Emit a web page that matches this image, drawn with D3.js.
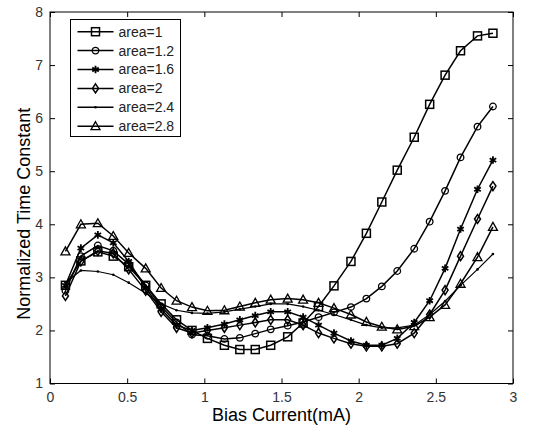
<!DOCTYPE html>
<html>
<head>
<meta charset="utf-8">
<script src="https://cdn.jsdelivr.net/npm/d3@7"></script>
<style>
  body { margin: 0; background: #fff; }
  svg { font-family: "Liberation Sans", Arial, sans-serif; }
</style>
</head>
<body>
<div id="chart"></div>
<script>
// bias current (mA) at each measured point
const biasCurrent = [0.10, 0.20, 0.31, 0.41, 0.51, 0.62, 0.72, 0.82, 0.92, 1.02,
    1.13, 1.23, 1.33, 1.43, 1.54, 1.64, 1.74, 1.84, 1.95, 2.05,
    2.15, 2.25, 2.36, 2.46, 2.56, 2.66, 2.77, 2.87];

const area1 = [2.85, 3.31, 3.48, 3.40, 3.20, 2.85, 2.50, 2.20, 2.00, 1.85,
    1.72, 1.64, 1.64, 1.72, 1.88, 2.14, 2.45, 2.84, 3.30, 3.83,
    4.42, 5.02, 5.64, 6.26, 6.81, 7.27, 7.55, 7.60];
const area12 = [2.75, 3.40, 3.60, 3.50, 3.25, 2.85, 2.45, 2.15, 1.92, 1.90,
    1.84, 1.86, 1.94, 2.02, 2.09, 2.16, 2.25, 2.34, 2.44, 2.60,
    2.83, 3.12, 3.54, 4.05, 4.63, 5.26, 5.84, 6.22];
const area16 = [2.85, 3.55, 3.80, 3.65, 3.30, 2.80, 2.40, 2.10, 2.00, 2.05,
    2.12, 2.20, 2.28, 2.35, 2.35, 2.25, 2.10, 1.95, 1.80, 1.72,
    1.72, 1.85, 2.15, 2.56, 3.17, 3.91, 4.66, 5.21];
const area2 = [2.65, 3.30, 3.50, 3.45, 3.15, 2.75, 2.35, 2.05, 1.95, 2.00,
    2.05, 2.10, 2.15, 2.20, 2.20, 2.10, 1.95, 1.85, 1.75, 1.70,
    1.70, 1.75, 1.95, 2.30, 2.76, 3.40, 4.10, 4.72];
const area24 = [2.90, 3.13, 3.11, 3.05, 2.90, 2.70, 2.50, 2.38, 2.33, 2.32,
    2.35, 2.40, 2.45, 2.50, 2.50, 2.45, 2.38, 2.30, 2.20, 2.10,
    2.05, 2.05, 2.10, 2.30, 2.55, 2.85, 3.15, 3.44];
const area28 = [3.49, 4.00, 4.02, 3.78, 3.46, 3.17, 2.80, 2.56, 2.44, 2.37,
    2.38, 2.45, 2.52, 2.58, 2.60, 2.58, 2.52, 2.42, 2.30, 2.16,
    2.07, 2.02, 2.08, 2.25, 2.48, 2.88, 3.38, 3.95];

const seriesNames = ["area=1", "area=1.2", "area=1.6", "area=2", "area=2.4", "area=2.8"];
const seriesValues = [area1, area12, area16, area2, area24, area28];
const seriesMarkers = ["square", "circle", "asterisk", "diamond", "dot", "triangle"];

const xTicks = [0, 0.5, 1, 1.5, 2, 2.5, 3];
const yTicks = [1, 2, 3, 4, 5, 6, 7, 8];

const width = 536, height = 425;
const margin = { top: 12, right: 23, bottom: 41.5, left: 50 };
const innerW = width - margin.left - margin.right;
const innerH = height - margin.top - margin.bottom;

const svg = d3.select("#chart").append("svg")
    .attr("width", width)
    .attr("height", height);

const g = svg.append("g")
    .attr("transform", `translate(${margin.left},${margin.top})`);

const x = d3.scaleLinear().domain([0, 3]).range([0, innerW]);
const y = d3.scaleLinear().domain([1, 8]).range([innerH, 0]);

// axes: MATLAB-style box with inward ticks on all sides
const tickLen = 5;
g.append("g")
    .attr("transform", `translate(0,${innerH})`)
    .call(d3.axisBottom(x).tickValues(xTicks).tickSize(-tickLen).tickPadding(tickLen + 4)
        .tickFormat(d3.format("")))
    .call(a => a.select(".domain").remove());
g.append("g")
    .call(d3.axisTop(x).tickValues(xTicks).tickSize(-tickLen).tickFormat(""))
    .call(a => a.select(".domain").remove());
g.append("g")
    .call(d3.axisLeft(y).tickValues(yTicks).tickSize(-tickLen).tickPadding(tickLen + 2)
        .tickFormat(d3.format("d")))
    .call(a => a.select(".domain").remove());
g.append("g")
    .attr("transform", `translate(${innerW},0)`)
    .call(d3.axisRight(y).tickValues(yTicks).tickSize(-tickLen).tickFormat(""))
    .call(a => a.select(".domain").remove());

g.selectAll(".tick text")
    .attr("font-size", "14px")
    .attr("fill", "#333")
    .attr("font-family", "'Liberation Sans', Arial, sans-serif");
g.selectAll(".tick line").attr("stroke", "#000");

g.append("rect")
    .attr("width", innerW)
    .attr("height", innerH)
    .attr("fill", "none")
    .attr("stroke", "#000")
    .attr("stroke-width", 1);

// axis labels
svg.append("text")
    .attr("x", margin.left + innerW / 2)
    .attr("y", 421)
    .attr("text-anchor", "middle")
    .attr("font-size", "18px")
    .text("Bias Current(mA)");

svg.append("text")
    .attr("transform", `translate(30,${margin.top + innerH / 2 + 16}) rotate(-90)`)
    .attr("text-anchor", "middle")
    .attr("font-size", "18px")
    .text("Normalized Time Constant");

// marker drawing
function drawMarker(sel, type) {
    if (type === "dot") {
        sel.append("circle").attr("r", 1.3).attr("fill", "#000");
    } else if (type === "asterisk") {
        sel.append("path")
            .attr("d", d3.symbol(d3.symbolAsterisk, 40)())
            .attr("fill", "none").attr("stroke", "#000").attr("stroke-width", 1.8);
    } else if (type === "square") {
        sel.append("rect").attr("x", -4).attr("y", -4).attr("width", 8).attr("height", 8)
            .attr("fill", "none").attr("stroke", "#000").attr("stroke-width", 1.5);
    } else if (type === "circle") {
        sel.append("circle").attr("r", 3.3)
            .attr("fill", "none").attr("stroke", "#000").attr("stroke-width", 1.3);
    } else if (type === "diamond") {
        sel.append("path").attr("d", "M0,-4.5L3,0L0,4.5L-3,0Z")
            .attr("fill", "none").attr("stroke", "#000").attr("stroke-width", 1.5);
    } else if (type === "triangle") {
        sel.append("path").attr("d", "M0,-4.5L4.5,3.5L-4.5,3.5Z")
            .attr("fill", "none").attr("stroke", "#000").attr("stroke-width", 1.3);
    }
}

const line = d3.line()
    .x((d, i) => x(biasCurrent[i]))
    .y(d => y(d));

const plot = g.append("g");
seriesValues.forEach((vals, s) => {
    plot.append("path")
        .datum(vals)
        .attr("d", line)
        .attr("fill", "none")
        .attr("stroke", "#000")
        .attr("stroke-width", s === 4 ? 1.2 : 1.5);
    plot.selectAll(null)
        .data(vals)
        .enter().append("g")
        .attr("transform", (d, i) => `translate(${x(biasCurrent[i])},${y(d)})`)
        .each(function () { drawMarker(d3.select(this), seriesMarkers[s]); });
});

// legend
const legend = svg.append("g").attr("transform", "translate(70.5,19.5)");
legend.append("rect")
    .attr("width", 110)
    .attr("height", 117)
    .attr("fill", "#fff")
    .attr("stroke", "#000");
seriesNames.forEach((name, i) => {
    const row = legend.append("g").attr("transform", `translate(0,${12.2 + i * 18.9})`);
    row.append("line").attr("x1", 7).attr("x2", 43)
        .attr("stroke", "#000").attr("stroke-width", 1.5);
    drawMarker(row.append("g").attr("transform", "translate(25,0)"), seriesMarkers[i]);
    row.append("text")
        .attr("x", 48)
        .attr("dy", "0.35em")
        .attr("font-size", "14px")
        .attr("fill", "#222")
        .text(name);
});
</script>
</body>
</html>
